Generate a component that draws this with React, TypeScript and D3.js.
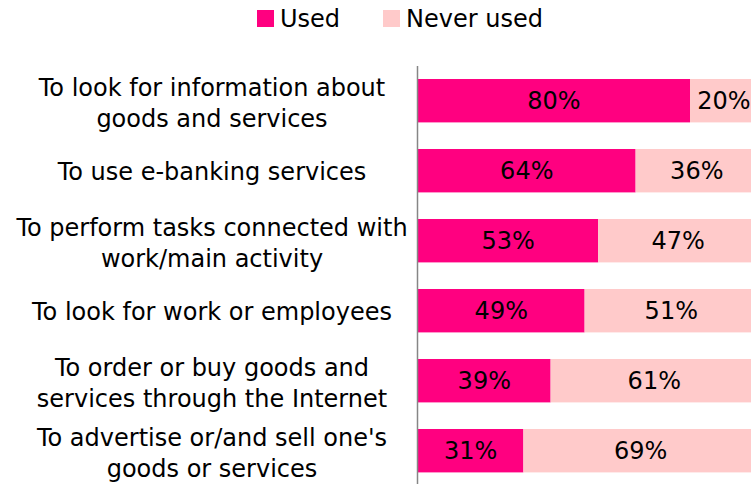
import React from "react";
import * as d3 from "d3";

// category labels, one string per bar, "\n" marks the line break of the original
const categories = [
  "To look for information about\ngoods and services",
  "To use e-banking services",
  "To perform tasks connected with\nwork/main activity",
  "To look for work or employees",
  "To order or buy goods and\nservices through the Internet",
  "To advertise or/and sell one's\ngoods or services",
];
const usedValues = [80, 64, 53, 49, 39, 31];
const neverUsedValues = [20, 36, 47, 51, 61, 69];
const seriesNames = ["Used", "Never used"];
const seriesColors = ["#FF0080", "#FFCACA"];

const W = 751;
const H = 484;
const FONT = "'DejaVu Sans', Verdana, sans-serif";

export default function App() {
  const rows = categories.map((c, i) => ({
    cat: c,
    Used: usedValues[i],
    "Never used": neverUsedValues[i],
  }));
  const stacked = d3.stack<any>().keys(seriesNames)(rows);

  const x = d3.scaleLinear().domain([0, 100]).range([418, 758]);
  const y = d3
    .scaleBand()
    .domain(categories)
    .range([65.7, 485.7])
    .paddingInner(0.38)
    .paddingOuter(0.19);
  const color = d3.scaleOrdinal<string, string>().domain(seriesNames).range(seriesColors);

  const lineH = 31;
  const labelX = 212;

  // legend layout
  const legendItems = [
    { name: seriesNames[0], x: 257 },
    { name: seriesNames[1], x: 383 },
  ];

  return (
    <svg
      width={W}
      height={H}
      style={{ position: "absolute", left: 0, top: 0, background: "#fff" }}
      fontFamily={FONT}
    >
      {/* legend */}
      <g>
        {legendItems.map((d) => (
          <g key={d.name}>
            <rect x={d.x} y={10} width={17} height={17} fill={color(d.name)} />
            <text x={d.x + 23} y={27} fontSize={24} fill="#000">
              {d.name}
            </text>
          </g>
        ))}
      </g>

      {/* bars */}
      {stacked.map((s) => (
        <g key={s.key} fill={color(s.key)}>
          {s.map((d: any) => (
            <rect
              key={d.data.cat}
              x={x(d[0])}
              y={y(d.data.cat)}
              width={x(d[1]) - x(d[0])}
              height={y.bandwidth()}
            />
          ))}
        </g>
      ))}

      {/* value labels */}
      {stacked.map((s) => (
        <g key={s.key + "-lbl"} fontSize={24} textAnchor="middle" fill="#000">
          {s.map((d: any) => (
            <text
              key={d.data.cat}
              x={(x(d[0]) + x(d[1])) / 2}
              y={(y(d.data.cat) as number) + y.bandwidth() / 2}
              dy="0.33em"
            >
              {d[1] - d[0]}%
            </text>
          ))}
        </g>
      ))}

      {/* category axis */}
      <line x1={417.5} x2={417.5} y1={66} y2={H} stroke="#868686" strokeWidth={1.5} />
      <g fontSize={24} textAnchor="middle" fill="#000">
        {categories.map((c) => {
          const lines = c.split("\n");
          const cy = (y(c) as number) + y.bandwidth() / 2;
          const shift = lines.length === 1 ? 1 : 2.5;
          const top = cy + shift - ((lines.length - 1) * lineH) / 2;
          return (
            <text key={c} x={labelX}>
              {lines.map((l, j) => (
                <tspan key={j} x={labelX} y={top + j * lineH} dy="0.36em">
                  {l}
                </tspan>
              ))}
            </text>
          );
        })}
      </g>
    </svg>
  );
}
